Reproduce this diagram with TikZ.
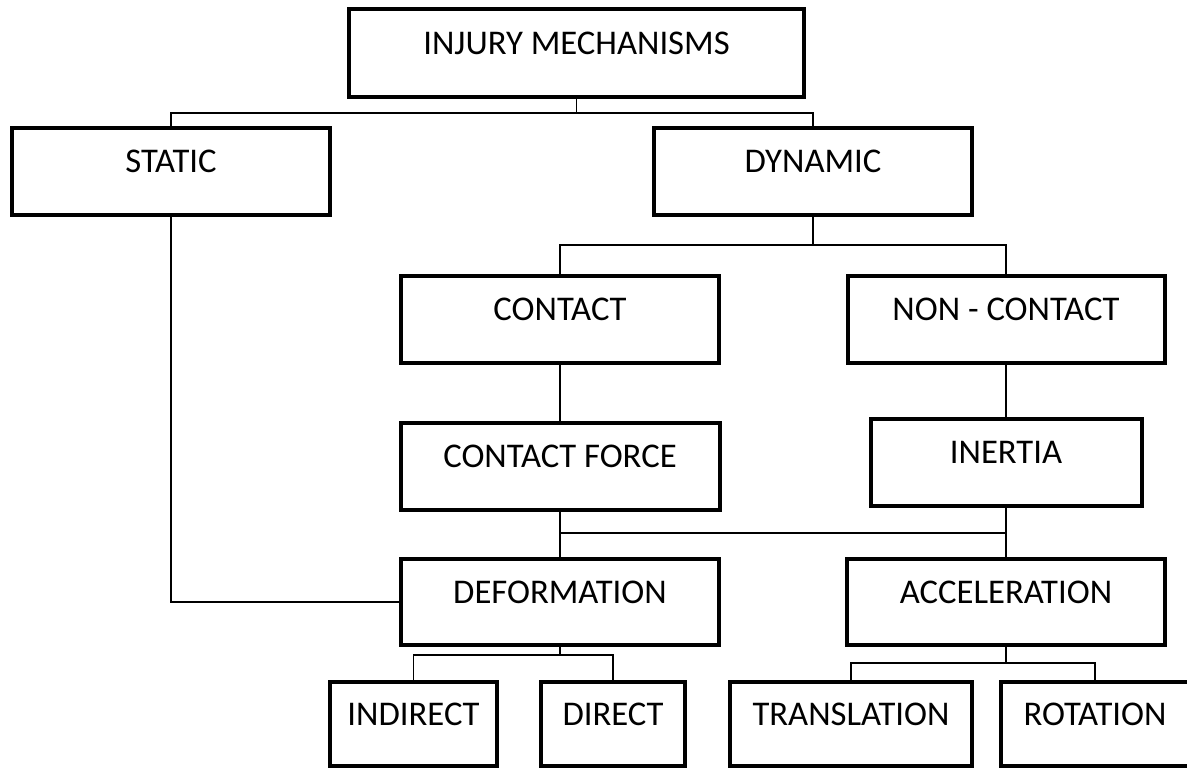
\documentclass[tikz,border=0pt]{standalone}
\usepackage{fontspec}
\setmainfont{Carlito}
\begin{document}
\begin{tikzpicture}[x=0.75pt,y=-0.75pt,
  box/.style={draw=black,line width=3pt,inner sep=0pt,fill=white,
    font=\fontsize{26pt}{30pt}\selectfont,
    text height=20pt,text depth=17.9pt},
  conn/.style={draw=black,line width=1pt}]
\useasboundingbox (0,0) rectangle (1187,769);
% nodes
\node[box,minimum width=341.25pt,minimum height=66pt] (inj) at (576.5,53) {INJURY MECHANISMS};
\node[box,minimum width=238.5pt,minimum height=65.25pt] (static) at (171,171.5) {STATIC};
\node[box,minimum width=238.5pt,minimum height=65.25pt] (dyn) at (813,171.5) {DYNAMIC};
\node[box,minimum width=238.5pt,minimum height=65.25pt] (contact) at (560,319.5) {CONTACT};
\node[box,minimum width=237.75pt,minimum height=65.25pt] (noncontact) at (1006,319.5) {NON - CONTACT};
\node[box,minimum width=239.25pt,minimum height=65.25pt] (cforce) at (560,466.5) {CONTACT FORCE};
\node[box,minimum width=203.25pt,minimum height=65.25pt] (inertia) at (1006,462.5) {INERTIA};
\node[box,minimum width=238.5pt,minimum height=64.5pt] (deform) at (560,602) {DEFORMATION};
\node[box,minimum width=238.5pt,minimum height=64.5pt] (accel) at (1006,602) {ACCELERATION};
\node[box,minimum width=125.25pt,minimum height=63pt] (indirect) at (413.5,724) {INDIRECT};
\node[box,minimum width=108pt,minimum height=63pt] (direct) at (613,724) {DIRECT};
\node[box,minimum width=181.5pt,minimum height=63pt] (transl) at (851,724) {TRANSLATION};
\node[box,minimum width=141pt,minimum height=63pt] (rot) at (1095,724) {ROTATION};
% junction coordinates
\coordinate (j1) at (576.5,113);
\coordinate (j2) at (813,245);
\coordinate (j3) at (560,533);
\coordinate (j4) at (560,655);
\coordinate (j5) at (1006,663);
% connectors
\draw[conn] (inj.south) -- (j1);
\draw[conn] (static.north) |- (j1) -| (dyn.north);
\draw[conn] (dyn.south) -- (j2);
\draw[conn] (contact.north) |- (j2) -| (noncontact.north);
\draw[conn] (contact.south) -- (cforce.north);
\draw[conn] (noncontact.south) -- (inertia.north);
\draw[conn] (cforce.south) -- (deform.north);
\draw[conn] (j3) -| (inertia.south);
\draw[conn] (inertia.south) -- (accel.north);
\draw[conn] (static.south) |- (deform.west);
\draw[conn] (deform.south) -- (j4);
\draw[conn] (indirect.north) |- (j4) -| (direct.north);
\draw[conn] (accel.south) -- (j5);
\draw[conn] (transl.north) |- (j5) -| (rot.north);
\end{tikzpicture}
\end{document}
